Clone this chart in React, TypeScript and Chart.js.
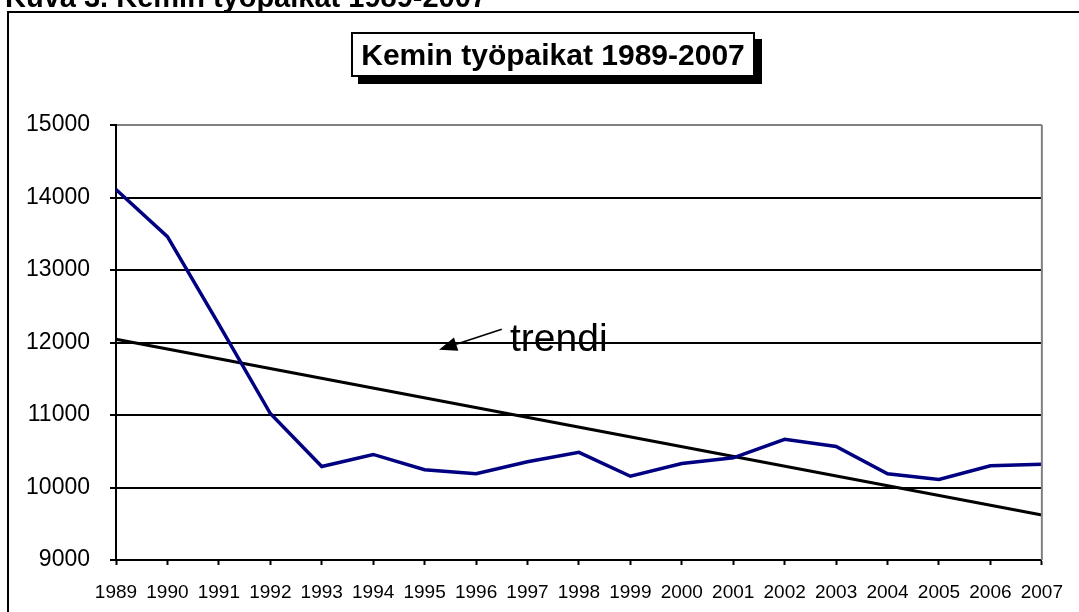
import React, { useEffect, useRef } from "react";
import { Chart, registerables } from "chart.js";

Chart.register(...registerables);

const years = ["1989", "1990", "1991", "1992", "1993", "1994", "1995", "1996", "1997", "1998", "1999", "2000", "2001", "2002", "2003", "2004", "2005", "2006", "2007"];
const jobs = [14110, 13460, 12250, 11020, 10290, 10456, 10245, 10190, 10355, 10485, 10155, 10330, 10410, 10665, 10565, 10190, 10110, 10300, 10320];
const trend = [12045, null, null, null, null, null, null, null, null, null, null, null, null, null, null, null, null, null, 9620];
const yMin = 9000;
const yMax = 15000;
const yStep = 1000;
const figureCaption = "Kuva 3. Kemin työpaikat 1989-2007";
const chartTitle = "Kemin työpaikat 1989-2007";
const trendLabel = "trendi";
// annotation arrow in data coordinates (category index, value)
const arrowTail = [7.5, 12184];
const arrowTip = [6.28, 11900];

const FONT = '"Liberation Sans", Arial, Helvetica, sans-serif';

const decorPlugin = {
  id: "decor",
  afterDraw(chart: any) {
    const { ctx, chartArea, scales } = chart;
    ctx.save();
    // right plot border (gray)
    ctx.strokeStyle = "#808080";
    ctx.lineWidth = 2;
    ctx.beginPath();
    ctx.moveTo(chartArea.right, chartArea.top);
    ctx.lineTo(chartArea.right, chartArea.bottom);
    ctx.stroke();
    // arrow
    const x1 = scales.x.getPixelForValue(arrowTail[0]);
    const y1 = scales.y.getPixelForValue(arrowTail[1]);
    const x2 = scales.x.getPixelForValue(arrowTip[0]);
    const y2 = scales.y.getPixelForValue(arrowTip[1]);
    const ang = Math.atan2(y2 - y1, x2 - x1);
    const headLen = 18;
    const headW = 7;
    const bx = x2 - headLen * Math.cos(ang);
    const by = y2 - headLen * Math.sin(ang);
    ctx.strokeStyle = "#000";
    ctx.fillStyle = "#000";
    ctx.lineWidth = 1.6;
    ctx.beginPath();
    ctx.moveTo(x1, y1);
    ctx.lineTo(bx, by);
    ctx.stroke();
    ctx.beginPath();
    ctx.moveTo(x2, y2);
    ctx.lineTo(bx + headW * Math.sin(ang), by - headW * Math.cos(ang));
    ctx.lineTo(bx - headW * Math.sin(ang), by + headW * Math.cos(ang));
    ctx.closePath();
    ctx.fill();
    ctx.restore();
  },
};

export default function App() {
  const canvasRef = useRef<HTMLCanvasElement | null>(null);

  useEffect(() => {
    const canvas = canvasRef.current;
    if (!canvas) return;
    const chart = new Chart(canvas, {
      type: "line",
      data: {
        labels: years,
        datasets: [
          {
            label: "Työpaikat",
            data: jobs,
            borderColor: "#000080",
            borderWidth: 3.5,
            pointRadius: 0,
            tension: 0,
            fill: false,
          },
          {
            label: "trendi",
            data: trend as any,
            borderColor: "#000",
            borderWidth: 3.2,
            pointRadius: 0,
            spanGaps: true,
            fill: false,
          },
        ],
      },
      options: {
        animation: false,
        responsive: false,
        maintainAspectRatio: false,
        layout: { padding: { left: 0, right: 34, top: 125, bottom: 0 } },
        plugins: {
          legend: { display: false },
          title: { display: false },
          tooltip: { enabled: false },
        },
        scales: {
          x: {
            type: "category",
            offset: false,
            afterFit(scale: any) {
              scale.height = 52;
            },
            grid: {
              display: true,
              drawOnChartArea: false,
              drawTicks: true,
              tickLength: 5,
              tickColor: "#000",
              tickWidth: 2,
            },
            border: { display: true, color: "#000", width: 2 },
            ticks: {
              color: "#000",
              font: { family: FONT, size: 19 },
              padding: 16,
              maxRotation: 0,
              autoSkip: false,
            },
          },
          y: {
            min: yMin,
            max: yMax,
            afterFit(scale: any) {
              scale.width = 116;
            },
            grid: {
              color: (c: any) => (c.tick && c.tick.value === yMax ? "#808080" : "#000"),
              lineWidth: 2,
              drawTicks: true,
              tickLength: 6,
              tickColor: "#000",
            },
            border: { display: true, color: "#000", width: 2 },
            ticks: {
              stepSize: yStep,
              color: "#000",
              font: { family: FONT, size: 23 },
              padding: 20,
              callback: (v: any) => String(v),
            },
          },
        },
      },
      plugins: [decorPlugin],
    });
    return () => chart.destroy();
  }, []);

  return (
    <div
      style={{
        position: "fixed",
        left: 0,
        top: 0,
        width: 1079,
        height: 612,
        overflow: "hidden",
        background: "#fff",
        fontFamily: FONT,
      }}
    >
      <div
        style={{
          position: "absolute",
          left: 7,
          top: 11,
          width: 2000,
          height: 2000,
          borderLeft: "2px solid #000",
          borderTop: "2px solid #000",
        }}
      />
      <canvas
        ref={canvasRef}
        width={1079}
        height={612}
        style={{ position: "absolute", left: 0, top: 0, width: 1079, height: 612 }}
      />
      <div
        style={{
          position: "absolute",
          left: 5,
          top: -17,
          fontSize: 29,
          lineHeight: "29px",
          fontWeight: "bold",
          whiteSpace: "nowrap",
        }}
      >
        {figureCaption}
      </div>
      <div
        style={{
          position: "absolute",
          left: 351,
          top: 32,
          width: 400,
          height: 41,
          border: "2px solid #000",
          background: "#fff",
          boxShadow: "7px 7px 0 #000",
          display: "flex",
          alignItems: "center",
          justifyContent: "center",
          fontSize: 30,
          fontWeight: "bold",
          whiteSpace: "nowrap",
        }}
      >
        {chartTitle}
      </div>
      <div
        style={{
          position: "absolute",
          left: 510,
          top: 318,
          fontSize: 39,
          lineHeight: "39px",
          whiteSpace: "nowrap",
        }}
      >
        {trendLabel}
      </div>
    </div>
  );
}
